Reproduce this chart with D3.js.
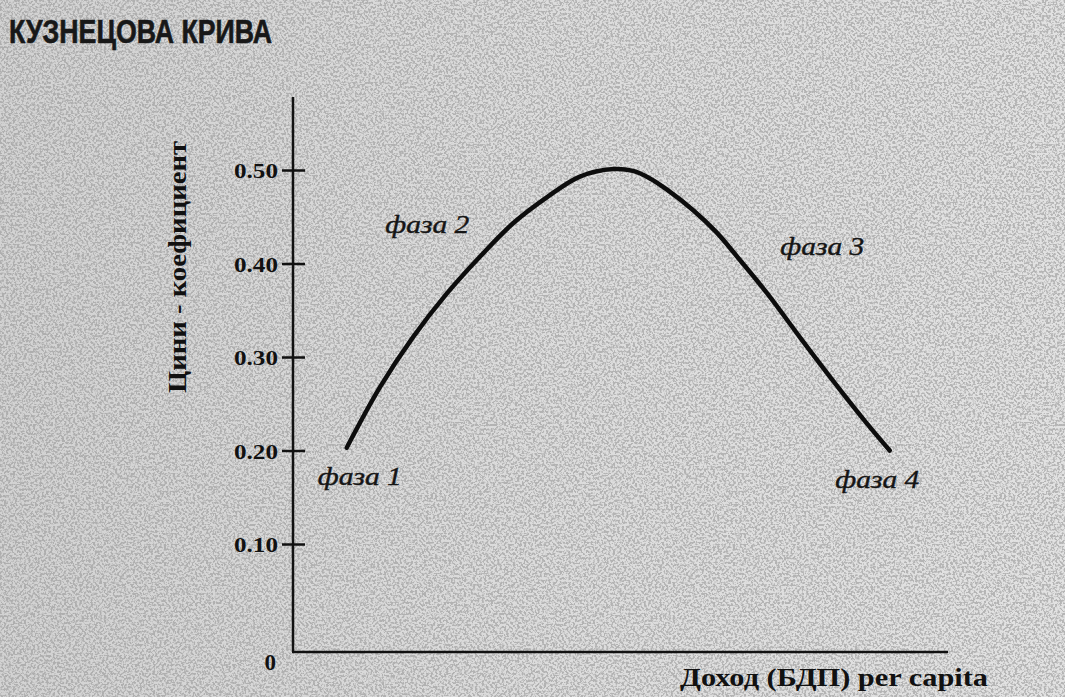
<!DOCTYPE html>
<html>
<head>
<meta charset="utf-8">
<script src="https://cdn.jsdelivr.net/npm/d3@7"></script>
<style>
  html, body { margin: 0; padding: 0; background: #d2d2d2; }
  svg { display: block; }
</style>
</head>
<body>
<svg id="chart" width="1065" height="697"></svg>
<script>
// ---- data ----
const title = "КУЗНЕЦОВА КРИВА";
const yTitle = "Цини - коефициент";
const xTitle = "Доход (БДП) per capita";
const yTicks = [0.10, 0.20, 0.30, 0.40, 0.50];
const yTickLabels = ["0.10", "0.20", "0.30", "0.40", "0.50"];
// income (arbitrary units 0..100) and Gini values along the curve
const income = [8.2, 13.3, 18.3, 23.5, 28.5, 33.6, 38.8, 43.8, 48.9, 51.9, 54.5, 57.1, 61.1, 64.7, 68.2, 72.4, 77.4, 82.4, 87.6, 91.1];
const gini   = [0.203, 0.268, 0.321, 0.368, 0.407, 0.443, 0.471, 0.493, 0.501, 0.499, 0.491, 0.479, 0.457, 0.433, 0.404, 0.368, 0.321, 0.275, 0.229, 0.200];
const phaseLabels = ["фаза 1", "фаза 2", "фаза 3", "фаза 4"];
const phaseX = [3.8, 14.1, 74.4, 82.8];
const phaseY = [0.163, 0.433, 0.409, 0.160];

// ---- layout ----
const svg = d3.select("#chart");
const W = 1065, H = 697;
const x0 = 293, x1 = 948, axisTop = 97, axisBottom = 652;
const x = d3.scaleLinear().domain([0, 100]).range([x0, x1]);
const y = d3.scaleLinear().domain([0, 0.5]).range([637.5, 170]);

// scanned-paper background
const defs = svg.append("defs");
const f = defs.append("filter").attr("id", "grain").attr("x", 0).attr("y", 0).attr("width", "100%").attr("height", "100%");
f.append("feTurbulence").attr("type", "fractalNoise").attr("baseFrequency", 0.45).attr("numOctaves", 2).attr("seed", 7).attr("result", "n");
f.append("feColorMatrix").attr("in", "n").attr("type", "matrix")
  .attr("values", "0 0 0 0 0.30  0 0 0 0 0.30  0 0 0 0 0.30  6 0 0 0 -2.65");

const grad = defs.append("linearGradient").attr("id", "bg").attr("x1", 0).attr("x2", 1).attr("y1", 0).attr("y2", 0);
grad.append("stop").attr("offset", 0).attr("stop-color", "#d2d2d2");
grad.append("stop").attr("offset", 0.5).attr("stop-color", "#dcdcdc");
grad.append("stop").attr("offset", 1).attr("stop-color", "#e2e2e2");
svg.append("rect").attr("width", W).attr("height", H).attr("fill", "url(#bg)");
svg.append("rect").attr("width", W).attr("height", H).attr("fill", "#000").attr("filter", "url(#grain)").attr("opacity", 0.58);

// title
svg.append("text")
  .attr("x", 9).attr("y", 43)
  .attr("font-family", "'Liberation Sans Narrow', 'Liberation Sans', sans-serif")
  .attr("font-weight", "bold").attr("font-size", 33)
  .attr("textLength", 263).attr("lengthAdjust", "spacingAndGlyphs")
  .attr("fill", "#181818").attr("stroke", "#181818").attr("stroke-width", 0.6)
  .text(title);

const serif = "'Liberation Serif', 'Times New Roman', serif";

// y axis
const yAxis = d3.axisLeft(y).tickValues(yTicks)
  .tickFormat((d, i) => yTickLabels[i]).tickSize(11).tickPadding(4);
const gy = svg.append("g").attr("transform", `translate(${x0},0)`).call(yAxis);
gy.select(".domain").remove();
gy.selectAll(".tick line").attr("x2", -11).attr("x1", 12).attr("stroke", "#111").attr("stroke-width", 2.5);
gy.selectAll(".tick text")
  .attr("font-family", serif).attr("font-weight", "bold").attr("font-size", 22)
  .attr("textLength", 44).attr("lengthAdjust", "spacingAndGlyphs")
  .attr("fill", "#111").attr("dy", "0.35em");

svg.append("line").attr("x1", x0).attr("x2", x0).attr("y1", axisTop).attr("y2", axisBottom)
  .attr("stroke", "#111").attr("stroke-width", 2.5);
svg.append("line").attr("x1", x0 - 1).attr("x2", x1).attr("y1", axisBottom).attr("y2", axisBottom)
  .attr("stroke", "#111").attr("stroke-width", 2.5);

// zero label
svg.append("text").attr("x", 276).attr("y", 670).attr("text-anchor", "end")
  .attr("font-family", serif).attr("font-weight", "bold").attr("font-size", 23)
  .attr("fill", "#111").text("0");

// axis titles
svg.append("text")
  .attr("transform", `translate(186, 267) rotate(-90)`)
  .attr("text-anchor", "middle")
  .attr("font-family", serif).attr("font-weight", "bold").attr("font-size", 25)
  .attr("textLength", 252).attr("lengthAdjust", "spacingAndGlyphs")
  .attr("fill", "#111").text(yTitle);

svg.append("text")
  .attr("x", 988).attr("y", 686).attr("text-anchor", "end")
  .attr("font-family", serif).attr("font-weight", "bold").attr("font-size", 26)
  .attr("textLength", 308).attr("lengthAdjust", "spacingAndGlyphs")
  .attr("fill", "#111").text(xTitle);

// curve
const pts = income.map((v, i) => [v, gini[i]]);
const line = d3.line().x(d => x(d[0])).y(d => y(d[1])).curve(d3.curveCatmullRom.alpha(0.5));
svg.append("path").datum(pts).attr("d", line)
  .attr("fill", "none").attr("stroke", "#0d0d0d").attr("stroke-width", 4.5)
  .attr("stroke-linecap", "round");

// phase labels
svg.selectAll("text.phase").data(phaseLabels).enter().append("text")
  .attr("class", "phase")
  .attr("x", (d, i) => x(phaseX[i])).attr("y", (d, i) => y(phaseY[i]))
  .attr("font-family", serif).attr("font-style", "italic").attr("font-size", 25)
  .attr("textLength", 84).attr("lengthAdjust", "spacingAndGlyphs")
  .attr("stroke", "#151515").attr("stroke-width", 0.4)
  .attr("fill", "#151515")
  .text(d => d);
</script>
</body>
</html>
